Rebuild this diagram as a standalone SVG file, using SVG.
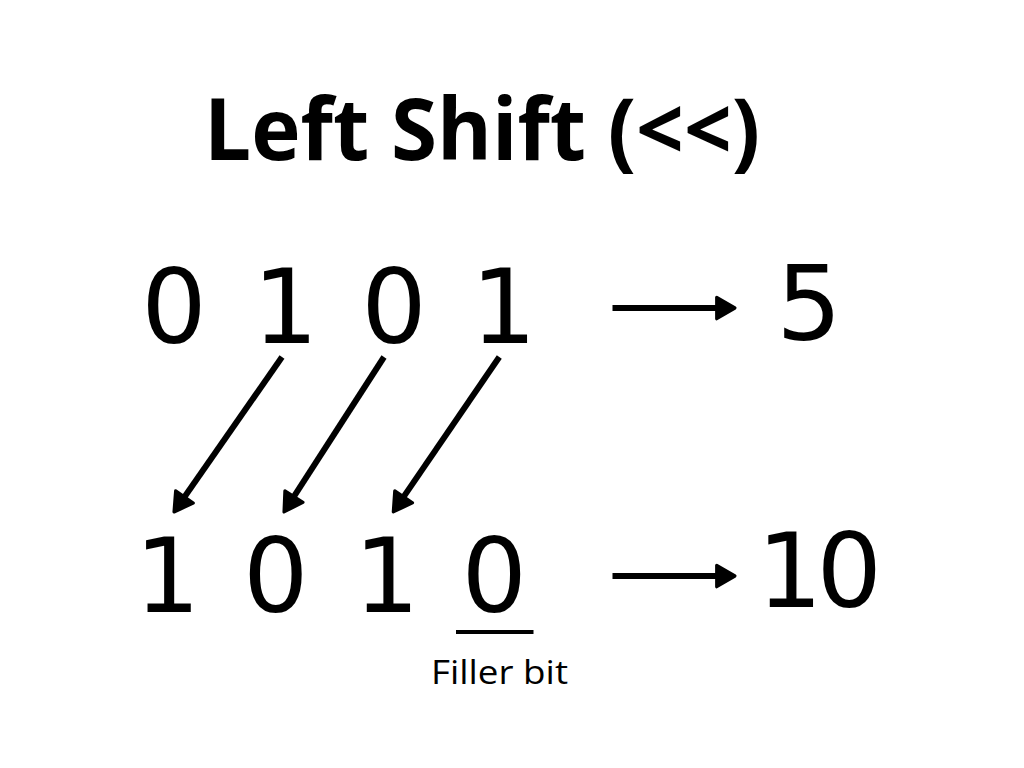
<svg xmlns="http://www.w3.org/2000/svg" width="1024" height="768" viewBox="0 0 1024 768">
  <style>
    .title { font-family: "Open Sans", "Noto Sans", sans-serif; font-weight: 700; font-size: 86px; fill: #000; }
    .digit { font-family: "DejaVu Sans", sans-serif; font-size: 103px; fill: #000; text-anchor: middle; }
    .label { font-family: "Open Sans", "Noto Sans", sans-serif; font-size: 33px; fill: #000; }
    .arrow { stroke: #000; stroke-width: 6; fill: none; marker-end: url(#head); }
  </style>
  <defs>
    <marker id="head" markerUnits="userSpaceOnUse" markerWidth="30" markerHeight="30" viewBox="-3 -14 24 28" refX="4" refY="0" orient="auto">
      <path d="M0,-10 L17,0 L0,10 Z" fill="#000" stroke="#000" stroke-width="3" stroke-linejoin="round"/>
    </marker>
  </defs>
  <rect width="1024" height="768" fill="#fff"/>

  <g id="title">
    <text class="title" x="204" y="160" textLength="556" lengthAdjust="spacingAndGlyphs">Left Shift (&lt;&lt;)</text>
  </g>

  <g id="input-bits">
    <text class="digit" x="174" y="343">0</text>
    <text class="digit" x="285.5" y="343">1</text>
    <text class="digit" x="394" y="343">0</text>
    <text class="digit" x="503.7" y="343">1</text>
  </g>

  <g id="input-value">
    <text class="digit" x="809" y="340">5</text>
  </g>

  <g id="output-bits">
    <text class="digit" x="167.5" y="612">1</text>
    <text class="digit" x="275.8" y="612">0</text>
    <text class="digit" x="386.7" y="612">1</text>
    <text class="digit" x="494.2" y="612">0</text>
  </g>

  <g id="output-value">
    <text class="digit" x="789.7 849.2" y="607">10</text>
  </g>

  <g id="filler-bit">
    <line x1="456" y1="632" x2="533.5" y2="632" stroke="#000" stroke-width="4"/>
    <text class="label" x="431" y="684" textLength="137" lengthAdjust="spacingAndGlyphs">Filler bit</text>
  </g>

  <g id="connectors">
    <line class="arrow" x1="612.5" y1="308" x2="721" y2="308"/>
    <line class="arrow" x1="612.5" y1="576" x2="721" y2="576"/>
    <line class="arrow" x1="282" y1="357" x2="182" y2="500.5"/>
    <line class="arrow" x1="384" y1="357" x2="291.6" y2="500.2"/>
    <line class="arrow" x1="499.3" y1="357" x2="401.2" y2="500.4"/>
  </g>
</svg>
